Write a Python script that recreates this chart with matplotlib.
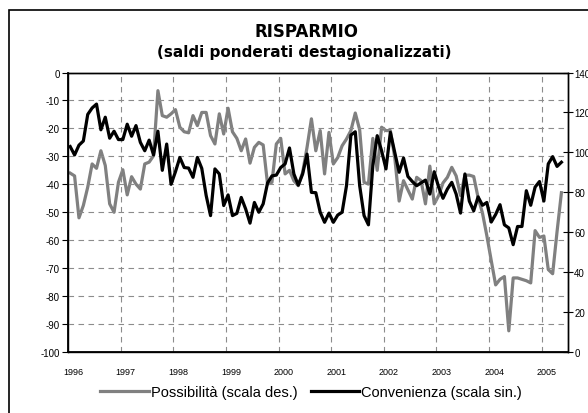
import matplotlib
matplotlib.use("Agg")
import matplotlib.pyplot as plt
from matplotlib.patches import Rectangle

plt.rcParams['font.family'] = ['Liberation Sans', 'DejaVu Sans']
plt.rcParams['axes.unicode_minus'] = False

# monthly readings, Jan 1996 - May 2005
years = ['1996', '1997', '1998', '1999', '2000', '2001', '2002', '2003', '2004', '2005']

# Convenienza (left scale)
convenienza = [
    -26.5, -29.5, -26, -24.5, -15, -12.7, -11.3, -20.5, -16, -23.5, -21, -24,
    -24, -18.5, -22.8, -19, -25, -28, -24.2, -29.5, -21, -35, -25.6, -40,
    -35.5, -30.4, -34, -34.2, -37.5, -30.4, -34.3, -44, -51.2, -34.5, -36.3, -47.6,
    -43.8, -51.2, -50.4, -44.7, -48.8, -53.9, -46.5, -50, -47, -39.5, -37, -36.7,
    -34, -32.7, -27, -36.3, -40.3, -36.3, -29.2, -42.9, -43, -50, -53.6, -50.3,
    -53.6, -51, -50, -40.5, -22.4, -21.2, -40.5, -51.2, -54.5, -33.3, -22.6, -28,
    -34.5, -21.4, -28.6, -35.7, -30.6, -37.2, -39, -40.5, -39.5, -38.5, -43.5, -35.5,
    -41, -45, -41.7, -39.3, -43.5, -50.3, -36.3, -46, -49.5, -44.5, -47.5, -46.5,
    -53.5, -50.8, -47.3, -54.5, -55.6, -61.6, -55.1, -55.1, -42.3, -47.5, -41, -39,
    -46, -32.7, -30.1, -33.6, -32.1,
]

# Possibilita' (right scale)
possibilita = [
    89.6, 88.2, 67.2, 73.4, 82.6, 94.2, 92.0, 100.8, 93.4, 74.2, 70.0, 85.0,
    91.3, 78.7, 87.8, 84.1, 81.6, 94.2, 95.1, 98.3, 130.9, 118.4, 117.6, 119.3,
    121.4, 112.6, 110.3, 109.8, 118.4, 113.4, 120.0, 120.0, 108.4, 104.2, 119.3, 109.2,
    122.1, 110.3, 107.0, 100.8, 106.7, 94.6, 102.5, 105.0, 103.7, 84.1, 85.0, 104.2,
    107.0, 89.2, 91.0, 85.8, 83.3, 90.0, 102.5, 116.8, 100.8, 110.9, 89.2, 110.0,
    94.2, 97.4, 103.3, 106.7, 110.9, 119.7, 111.3, 85.0, 84.1, 107.0, 91.0, 112.6,
    110.9, 110.9, 97.4, 75.6, 85.8, 81.2, 76.6, 87.5, 85.8, 74.2, 93.1, 74.2,
    78.3, 84.7, 87.5, 92.5, 88.2, 78.4, 88.5, 88.6, 87.9, 77.4, 69.6, 58.2,
    45.8, 33.6, 36.4, 37.8, 10.6, 37.1, 37.1, 36.4, 35.7, 34.6, 60.8, 57.4,
    58.1, 41.3, 39.2, 60.2, 79.8,
]

months = list(range(len(convenienza)))
year_starts = [12 * k for k in range(len(years))]
year_bounds = [12 * k - 0.5 for k in range(1, len(years))]

fig = plt.figure(figsize=(5.88, 4.14), dpi=100)
ax = fig.add_axes([68 / 588, 61 / 414, 500 / 588, 279.5 / 414])
ax2 = ax.twinx()

ax.plot(months, convenienza, color='black', lw=2.3, zorder=3,
        label='Convenienza (scala sin.)')
ax2.plot(months, possibilita, color='#808080', lw=2.3, zorder=2,
         label='Possibilità (scala des.)')
ax.set_zorder(ax2.get_zorder() + 1)
ax.patch.set_visible(False)

ax.set_xlim(-0.5, 113.5)
ax.set_ylim(-100, 0)
ax2.set_ylim(0, 140)
ax.set_yticks(range(-100, 1, 10))
ax2.set_yticks(range(0, 141, 20))

ax.set_xticks([s + 0.65 for s in year_starts])
ax.set_xticklabels(years)
ax.set_xticks(year_bounds, minor=True)
ax.tick_params(axis='x', which='both', length=0, labelsize=6.5, pad=10.5)
ax.tick_params(axis='y', length=4, width=0.8, labelsize=7, pad=2)
ax2.tick_params(axis='y', direction='inout', length=7, width=0.8, labelsize=7, pad=1)

ax.grid(True, axis='y', which='major', color='#8c8c8c', ls=(0, (5, 4)), lw=0.8)
ax.grid(True, axis='x', which='minor', color='#8c8c8c', ls=(0, (5, 4)), lw=0.8)
for a in (ax, ax2):
    for sp in a.spines.values():
        sp.set_color('black')
        sp.set_linewidth(1.0)
ax.spines['left'].set_linewidth(1.3)
ax.spines['bottom'].set_linewidth(1.3)

fig.text(306 / 588, 1 - 32 / 414, 'RISPARMIO', ha='center', va='center',
         fontsize=12, fontweight='bold', family='DejaVu Sans')
fig.text(304 / 588, 1 - 53 / 414, '(saldi ponderati destagionalizzati)',
         ha='center', va='center', fontsize=11, fontweight='bold',
         family='DejaVu Sans')

h1, l1 = ax2.get_legend_handles_labels()
h2, l2 = ax.get_legend_handles_labels()
fig.legend(h1 + h2, l1 + l2, loc='center', bbox_to_anchor=(311 / 588, 1 - 393 / 414),
           ncol=2, frameon=False, fontsize=10.5, handlelength=3.3,
           handletextpad=0.15, columnspacing=0.9, borderpad=0, borderaxespad=0)

fig.patches.append(Rectangle((9 / 588, -0.1), 1.2, 1.1 - 11 / 414,
                             transform=fig.transFigure, fill=False,
                             edgecolor='black', lw=1.2))

fig.savefig('out.png', dpi=100)
